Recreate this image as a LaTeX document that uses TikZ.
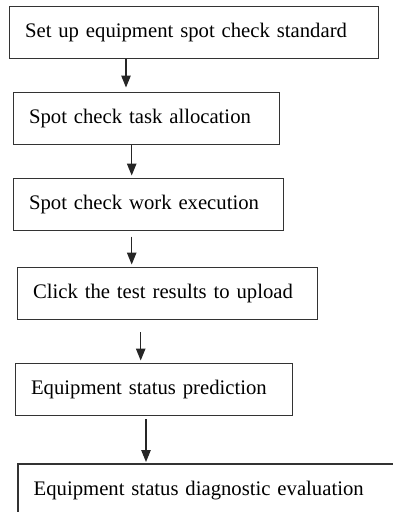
\documentclass[tikz,border=0pt]{standalone}
\usepackage{fontspec}
\setmainfont{Liberation Serif}
\usetikzlibrary{arrows.meta}
\begin{document}
\begin{tikzpicture}[x=1pt,y=-1pt,
  boxtext/.style={anchor=north west, align=left,
    inner xsep=15.5pt, inner ysep=0pt, minimum height=52pt,
    text height=14.5pt, text depth=4.6pt,
    font=\fontsize{20.7}{25}\selectfont, text=black},
  stepbox/.style={boxtext, draw=black!80, line width=1.1pt},
  boxedge/.style={draw=black!80, line width=1.1pt},
  arr/.style={draw=black!85, line width=1.1pt, -{Triangle[length=12pt,width=9.5pt]}}]
\useasboundingbox (0,0) rectangle (393,512);
\fill[white] (0,0) rectangle (393,512);
\clip (0,0) rectangle (393,512);
\node[stepbox, text width=338pt] (b1) at (9,6) {Set up equipment spot check standard};
\node[stepbox, text width=235pt] (b2) at (13,92) {Spot check task allocation};
\node[stepbox, text width=239pt] (b3) at (13,177.5) {Spot check work execution};
\node[stepbox, text width=269pt] (b4) at (17,267) {Click the test results to upload};
\node[stepbox, text width=246pt] (b5) at (15,363) {Equipment status prediction};
\node[boxtext, text width=344pt] (b6) at (18,464) {Equipment status diagnostic evaluation};
\draw[boxedge] ([yshift=-10pt]b6.south west) -- (b6.north west) -- ([xshift=20pt]b6.north east);
\draw[arr, shorten >=4.5pt] ([xshift=117pt]b1.south west) -- ([xshift=117pt]b1.south west |- b2.north);
\draw[arr, shorten >=2pt] ([xshift=118.7pt]b2.south west) -- ([xshift=118.7pt]b2.south west |- b3.north);
\draw[arr, shorten <=6pt, shorten >=2.5pt] ([xshift=118.7pt]b3.south west) -- ([xshift=118.7pt]b3.south west |- b4.north);
\draw[arr, shorten <=12pt, shorten >=2.5pt] ([xshift=123.7pt]b4.south west) -- ([xshift=123.7pt]b4.south west |- b5.north);
\draw[arr, shorten <=3pt, shorten >=2pt] ([xshift=131pt]b5.south west) -- ([xshift=131pt]b5.south west |- b6.north);
\end{tikzpicture}
\end{document}
